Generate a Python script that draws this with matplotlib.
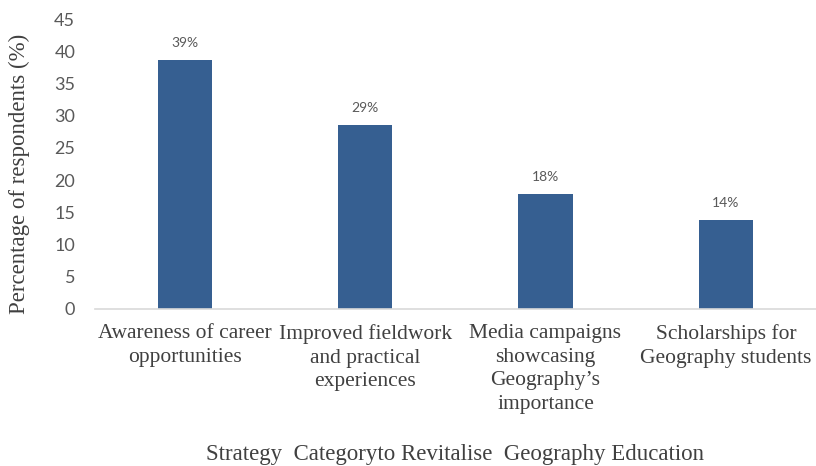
import matplotlib.pyplot as plt
import numpy as np

# survey results: share of respondents per strategy
categories = [
    "Awareness of career\nopportunities",
    "Improved fieldwork\nand practical\nexperiences",
    "Media campaigns\nshowcasing\nGeography\u2019s\nimportance",
    "Scholarships for\nGeography students",
]
percent = [38.6, 28.6, 17.8, 13.8]
y_ticks = [0, 5, 10, 15, 20, 25, 30, 35, 40, 45]

plt.rcParams["font.serif"] = ["Liberation Serif", "Times New Roman", "DejaVu Serif"]

bar_color = "#365f91"
text_gray = "#595959"
serif = "serif"
sans = "Lato"

fig = plt.figure(figsize=(8.16, 4.66), dpi=100)
ax = fig.add_axes([0.116, 0.337, 0.884, 0.622])

x = np.arange(len(categories))
bars = ax.bar(x, percent, width=0.30, color=bar_color, zorder=2)

for rect, v in zip(bars, percent):
    ax.annotate(f"{v:.0f}%", (rect.get_x() + rect.get_width() / 2, v),
                xytext=(0, 8), textcoords="offset points",
                ha="center", va="bottom", fontsize=10, color=text_gray,
                family=sans)

ax.set_xlim(-0.5, len(categories) - 0.5)
ax.set_ylim(0, 45)
ax.set_yticks(y_ticks)
ax.set_yticklabels([str(t) for t in y_ticks], fontsize=13, color=text_gray,
                   family=sans)
ax.set_xticks(x)
ax.set_xticklabels(categories, fontsize=15.5, color="#404040", family=serif,
                   linespacing=1.32)
ax.tick_params(axis="both", length=0)
ax.tick_params(axis="y", pad=14)
ax.tick_params(axis="x", pad=11)

for side in ["top", "right", "left"]:
    ax.spines[side].set_visible(False)
ax.spines["bottom"].set_color("#d9d9d9")
ax.spines["bottom"].set_linewidth(1.2)

ax.set_ylabel("Percentage of respondents (%)", fontsize=16.5, color="#404040",
              family=serif)
ax.yaxis.set_label_coords(-0.09, 0.466)
fig.text(0.558, 0.003, "Strategy  Categoryto Revitalise  Geography Education",
         ha="center", va="bottom", fontsize=16.5, color="#404040",
         family=serif)

fig.savefig("out.png", dpi=100)
